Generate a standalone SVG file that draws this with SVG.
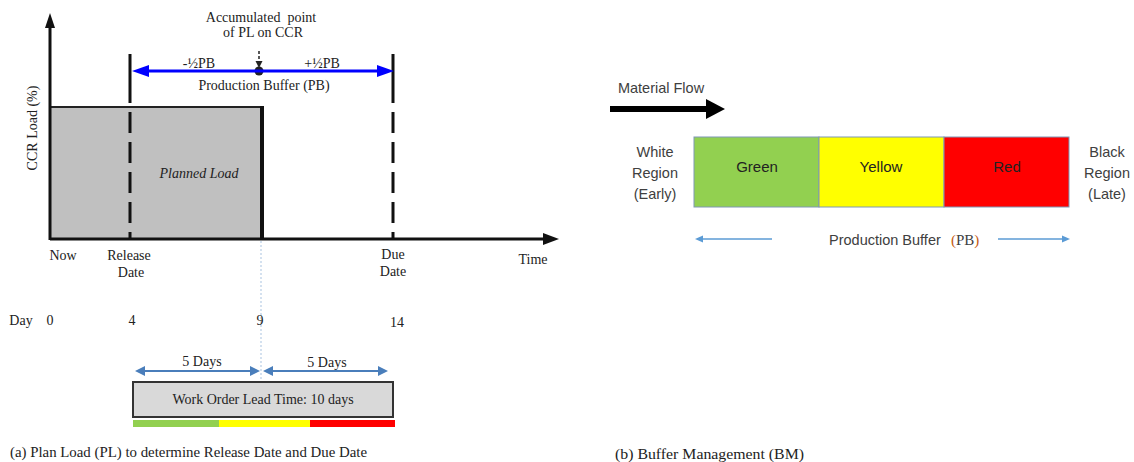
<svg xmlns="http://www.w3.org/2000/svg" width="1134" height="462" viewBox="0 0 1134 462">
<style>
.s{font-family:"Liberation Serif","Times New Roman",serif;font-size:14px;fill:#222;text-anchor:middle}
.ss{font-family:"Liberation Sans",Arial,sans-serif;font-size:14.5px;fill:#404040;text-anchor:middle}
.bx{font-family:"Liberation Sans",Arial,sans-serif;font-size:15px;fill:#222;text-anchor:middle}
.dash{stroke:#111;stroke-width:3;fill:none;stroke-dasharray:49 9 21 9 21 9 21 9 21 9 21 9}
.blu{stroke:#4a7ebb;stroke-width:2;fill:none}
.lb{stroke:#5b9bd5;stroke-width:1.3;fill:none}
</style>
<rect width="1134" height="462" fill="#fff"/>

<g id="chart">
  <rect x="50" y="107" width="212" height="132" fill="#c0c0c0" stroke="#222" stroke-width="2"/>
  <line x1="262" y1="106" x2="262" y2="240" stroke="#111" stroke-width="4"/>
  <line x1="261" y1="241" x2="261" y2="382" stroke="#a9c3e0" stroke-width="1" stroke-dasharray="2 2"/>
  <line x1="50" y1="240" x2="50" y2="26" stroke="#111" stroke-width="3"/>
  <polygon points="50,13 45,28 55,28" fill="#111"/>
  <line x1="50" y1="239" x2="545" y2="239" stroke="#111" stroke-width="3"/>
  <polygon points="559,239 543,233 543,245" fill="#111"/>
  <text class="s" transform="translate(37,128) rotate(-90)">CCR Load (%)</text>
  <text class="s" x="199" y="178" font-style="italic">Planned Load</text>
  <text class="s" x="533" y="264">Time</text>
</g>

<g id="release-line">
  <line class="dash" x1="130" y1="54" x2="130" y2="239"/>
  <text class="s" x="129" y="260">Release</text>
  <text class="s" x="131" y="277">Date</text>
</g>

<g id="due-line">
  <line class="dash" x1="393" y1="54" x2="393" y2="239"/>
  <text class="s" x="393" y="259">Due</text>
  <text class="s" x="393" y="276">Date</text>
</g>

<g id="now">
  <text class="s" x="63" y="260">Now</text>
</g>

<g id="accumulated-point">
  <text class="s" x="261" y="22" font-size="13.5">Accumulated&#160; point</text>
  <text class="s" x="263" y="37" font-size="13.5">of PL on CCR</text>
  <circle cx="259" cy="71" r="4.5" fill="#222"/>
</g>

<g id="production-buffer">
  <text class="s" x="199" y="68" font-size="13">-½PB</text>
  <text class="s" x="322" y="68" font-size="13">+½PB</text>
  <text class="s" x="264" y="90">Production Buffer (PB)</text>
</g>

<g id="days">
  <text class="s" x="21" y="325">Day</text>
  <text class="s" x="50" y="325">0</text>
  <text class="s" x="132" y="325">4</text>
  <text class="s" x="260" y="325">9</text>
  <text class="s" x="397" y="327">14</text>
</g>

<g id="lead-time">
  <text class="s" x="202" y="366">5 Days</text>
  <text class="s" x="327" y="367">5 Days</text>
  <rect x="133" y="382" width="260" height="35" fill="#d9d9d9" stroke="#333" stroke-width="2"/>
  <text class="s" x="263" y="404" font-size="14.5">Work Order Lead Time: 10 days</text>
  <rect x="133" y="420" width="86" height="7" fill="#92d050"/>
  <rect x="219" y="420" width="91" height="7" fill="#ffff00"/>
  <rect x="310" y="420" width="85" height="7" fill="#ff0000"/>
</g>

<g id="caption-a">
  <text class="s" x="10" y="457" style="text-anchor:start" textLength="357" lengthAdjust="spacingAndGlyphs">(a) Plan Load (PL) to determine Release Date and Due Date</text>
</g>

<g id="material-flow">
  <text class="ss" x="661" y="93">Material Flow</text>
  <line x1="610" y1="109" x2="708" y2="109" stroke="#000" stroke-width="6"/>
  <polygon points="725,109 706,99 706,119" fill="#000"/>
</g>

<g id="white-region">
  <text class="ss" x="655" y="157">White</text>
  <text class="ss" x="655" y="178">Region</text>
  <text class="ss" x="655" y="199">(Early)</text>
</g>

<g id="green">
  <rect x="694" y="137" width="125" height="70" fill="#92d050" stroke="#7f98b5" stroke-width="1"/>
  <text class="bx" x="757" y="172">Green</text>
</g>
<g id="yellow">
  <rect x="819" y="137" width="125" height="70" fill="#ffff00" stroke="#7f98b5" stroke-width="1"/>
  <text class="bx" x="881" y="172">Yellow</text>
</g>
<g id="red">
  <rect x="944" y="137" width="125" height="70" fill="#ff0000" stroke="#7f98b5" stroke-width="1"/>
  <text class="bx" x="1007" y="172">Red</text>
</g>

<g id="black-region">
  <text class="ss" x="1107" y="157">Black</text>
  <text class="ss" x="1107" y="178">Region</text>
  <text class="ss" x="1107" y="199">(Late)</text>
</g>

<g id="pb-label">
  <text class="ss" y="245" style="text-anchor:start"><tspan x="829">Production Buffer</tspan><tspan x="951" font-family="Liberation Serif, serif" font-size="15"><tspan fill="#c55a11">(</tspan>PB<tspan fill="#c55a11">)</tspan></tspan></text>
</g>

<g id="caption-b">
  <text class="s" x="615" y="459" style="text-anchor:start" textLength="189" lengthAdjust="spacingAndGlyphs">(b) Buffer Management (BM)</text>
</g>

<g id="connectors">
  <line x1="146" y1="71" x2="381" y2="71" stroke="#0000ff" stroke-width="3"/>
  <polygon points="132,71 149,65 149,77" fill="#0000ff"/>
  <polygon points="394,71 377,65 377,77" fill="#0000ff"/>
  <line x1="259" y1="51" x2="259" y2="62" stroke="#222" stroke-width="1.5" stroke-dasharray="3 2"/>
  <polygon points="259,68 255.5,61 262.5,61" fill="#222"/>
  <line class="blu" x1="143" y1="371" x2="252" y2="371"/>
  <polygon points="135,371 145,366 145,376" fill="#4a7ebb"/>
  <polygon points="260,371 250,366 250,376" fill="#4a7ebb"/>
  <line class="blu" x1="271" y1="371" x2="380" y2="371"/>
  <polygon points="263,371 273,366 273,376" fill="#4a7ebb"/>
  <polygon points="388,371 378,366 378,376" fill="#4a7ebb"/>
  <line class="lb" x1="701" y1="239" x2="772" y2="239"/>
  <polygon points="695,239 703,235.5 703,242.5" fill="#5b9bd5"/>
  <line class="lb" x1="998" y1="239" x2="1064" y2="239"/>
  <polygon points="1070,239 1062,235.5 1062,242.5" fill="#5b9bd5"/>
</g>
</svg>
